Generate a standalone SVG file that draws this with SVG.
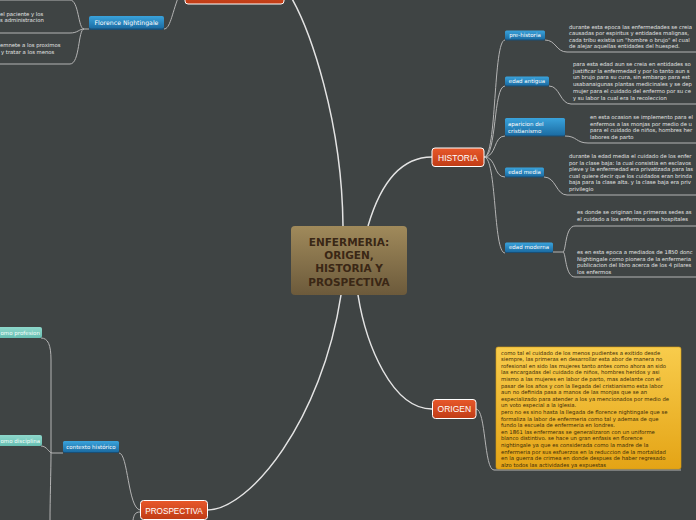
<svg xmlns="http://www.w3.org/2000/svg" width="696" height="520" viewBox="0 0 696 520">
<defs>
<linearGradient id="gCenter" x1="0" y1="0" x2="0" y2="1"><stop offset="0" stop-color="#a08a5b"/><stop offset="1" stop-color="#6c5a3b"/></linearGradient>
<linearGradient id="gOrange" x1="0" y1="0" x2="0" y2="1"><stop offset="0" stop-color="#e8582a"/><stop offset="1" stop-color="#c03c16"/></linearGradient>
<linearGradient id="gBlue" x1="0" y1="0" x2="0" y2="1"><stop offset="0" stop-color="#3aa3dc"/><stop offset="1" stop-color="#1b6ca3"/></linearGradient>
<linearGradient id="gTeal" x1="0" y1="0" x2="0" y2="1"><stop offset="0" stop-color="#8fd8cc"/><stop offset="1" stop-color="#67bfb2"/></linearGradient>
<linearGradient id="gYellow" x1="0" y1="0" x2="0" y2="1"><stop offset="0" stop-color="#f8cc4c"/><stop offset="1" stop-color="#e4a416"/></linearGradient>
</defs>
<style>
.main{fill:none;stroke:#e4e4e4;stroke-width:1.5}
.sub{fill:none;stroke:#b4b4b4;stroke-width:1}
.ctr{font-family:"DejaVu Sans",Verdana,sans-serif;font-weight:bold;font-size:10.5px;fill:#3a2715;text-anchor:middle}
.on{fill:url(#gOrange);stroke:#ffffff;stroke-width:1}
.ot{font-family:"Liberation Sans",Arial,sans-serif;font-size:8.5px;fill:#ffffff;text-anchor:middle}
.bn{fill:url(#gBlue)}
.bs{fill:#1a4e74}
.bt{font-family:"DejaVu Sans",Verdana,sans-serif;font-size:5.5px;fill:#ffffff;text-anchor:middle}
.tn{fill:url(#gTeal)}
.tt{font-family:"DejaVu Sans",Verdana,sans-serif;font-size:5.5px;fill:#f4fffb}
.body{font-family:"DejaVu Sans",Verdana,sans-serif;font-size:5.3px;fill:#e4e4e4}
.yt{font-family:"DejaVu Sans",Verdana,sans-serif;font-size:5.3px;fill:#3a2a08}
</style>
<rect x="0" y="0" width="696" height="520" fill="#3f4444"/>

<g id="connectors">
<path class="main" d="M291,-3 C310,30 342,120 343,226"/>
<path class="main" d="M368,226 C380,185 400,157 432,157"/>
<path class="main" d="M358,295 C366,345 392,409 432,409"/>
<path class="main" d="M341,295 C322,420 250,510 207,510"/>
<path class="sub" d="M164,29 C170,29 172,14 178,-2"/>
<path class="sub" d="M89,29 L84,29 C78,29 79,0 70,0 L0,0"/>
<path class="sub" d="M84,29 C79,29 78,33 70,33 L0,33"/>
<path class="sub" d="M84,29 C78,29 80,64 70,64 L0,64"/>
<path class="sub" d="M484,157 C497,157 493,40 505,40"/>
<path class="sub" d="M484,157 C497,157 493,86 505,86"/>
<path class="sub" d="M484,157 C497,157 493,136 505,136"/>
<path class="sub" d="M484,157 C497,157 493,177 505,177"/>
<path class="sub" d="M484,157 C497,157 493,253 505,253"/>
<path class="sub" d="M545,40 C556,40 556,52 567,52 L696,52"/>
<path class="sub" d="M549,86 C560,86 560,104 571,104 L696,104"/>
<path class="sub" d="M565,136 C577,136 576,143 588,143 L696,143"/>
<path class="sub" d="M544,177 C556,177 556,195 567,195 L696,195"/>
<path class="sub" d="M553,252 L563,252 C566,252 565,226 575,226 L696,226"/>
<path class="sub" d="M563,252 C566,252 565,277 575,277 L696,277"/>
<path class="sub" d="M476,409 C486,409 484,470 494,470 L681,470"/>
<path class="sub" d="M140,510 C128,508 128,453 119,453"/>
<path class="sub" d="M140,512 C135,512 134,515 133,520"/>
<path class="sub" d="M63,453 L52,453"/>
<path class="sub" d="M41,338 C48,338 51,345 51,360 L51,453"/>
<path class="sub" d="M41,446 C47,446 49,453 52,453"/>
<path class="sub" d="M51,453 C51,470 50,500 50,520"/>
</g>

<g id="center">
<rect x="291" y="226" width="116" height="69" rx="4" fill="url(#gCenter)"/>
<text class="ctr" x="349" y="246">ENFERMERIA:</text>
<text class="ctr" x="349" y="259">ORIGEN,</text>
<text class="ctr" x="349" y="272">HISTORIA Y</text>
<text class="ctr" x="349" y="286">PROSPECTIVA</text>
</g>

<g id="top-node">
<rect class="on" x="185" y="-20" width="99" height="24" rx="3"/>
</g>

<g id="florence">
<rect class="bs" x="89" y="17" width="75" height="13" rx="2"/>
<rect class="bn" x="89" y="16" width="75" height="12.5" rx="2"/>
<text class="bt" x="126.5" y="25" style="font-size:6.2px">Florence Nightingale</text>
</g>
<g id="florence-texts">
<text class="body" x="0" y="15.5">el paciente y los</text>
<text class="body" x="0" y="21.5">s administracion</text>
<text class="body" x="0" y="47">emnete a los proximos</text>
<text class="body" x="1" y="54">y tratar a los menos</text>
</g>

<g id="historia">
<rect class="on" x="432" y="148" width="52" height="18.5" rx="3"/>
<text class="ot" x="458" y="160.5">HISTORIA</text>
</g>

<g id="pre-historia">
<rect class="bs" x="505" y="31" width="40" height="9.5" rx="1.5"/>
<rect class="bn" x="505" y="30.5" width="40" height="9" rx="1.5"/>
<text class="bt" x="525" y="37">pre-historia</text>
<text class="body" x="569" y="29">durante esta epoca las enfermedades se creia</text>
<text class="body" x="569" y="35">causadas por espiritus y entidades malignas,</text>
<text class="body" x="569" y="41.5">cada tribu existia un "hombre o brujo" el cual</text>
<text class="body" x="569" y="48">de alejar aquellas entidades del huesped.</text>
</g>

<g id="edad-antigua">
<rect class="bs" x="505" y="77" width="44" height="9.5" rx="1.5"/>
<rect class="bn" x="505" y="76.5" width="44" height="9" rx="1.5"/>
<text class="bt" x="527" y="83">edad antigua</text>
<text class="body" x="573" y="66">para esta edad aun se creia en entidades so</text>
<text class="body" x="573" y="72.7">justificar la enfermedad y por lo tanto aun s</text>
<text class="body" x="573" y="79.4">un brujo para su cura, sin embargo para est</text>
<text class="body" x="573" y="86.1">usabanaigunas plantas medicinales y se dep</text>
<text class="body" x="573" y="92.8">mujer para el cuidado del enfermo por su ce</text>
<text class="body" x="573" y="99.5">y su labor la cual era la recoleccion</text>
</g>

<g id="aparicion">
<rect class="bs" x="505" y="118.5" width="60" height="18" rx="1.5"/>
<rect class="bn" x="505" y="118" width="60" height="17.5" rx="1.5"/>
<text class="bt" x="508" y="126" style="text-anchor:start">aparicion del</text>
<text class="bt" x="508" y="133" style="text-anchor:start">cristianismo</text>
<text class="body" x="590" y="119">en esta ocasion se implemento para el</text>
<text class="body" x="590" y="125.7">enfermos a las monjas por medio de u</text>
<text class="body" x="590" y="132.4">para el cuidado de niños, hombres her</text>
<text class="body" x="590" y="139">labores de parto</text>
</g>

<g id="edad-media">
<rect class="bs" x="505" y="168" width="39" height="9.5" rx="1.5"/>
<rect class="bn" x="505" y="167.5" width="39" height="9" rx="1.5"/>
<text class="bt" x="524.5" y="174">edad media</text>
<text class="body" x="569" y="158">durante la edad media el cuidado de los enfer</text>
<text class="body" x="569" y="164.6">por la clase baja: la cual consistia en esclavos</text>
<text class="body" x="569" y="171.2">pleve y la enfermedad era privatizada para las</text>
<text class="body" x="569" y="177.8">cual quiere decir que los cuidados eran brinda</text>
<text class="body" x="569" y="184.4">baja para la clase alta. y la clase baja era priv</text>
<text class="body" x="569" y="191">privilegio</text>
</g>

<g id="edad-moderna">
<rect class="bs" x="505" y="243" width="48" height="10" rx="1.5"/>
<rect class="bn" x="505" y="242.5" width="48" height="9.5" rx="1.5"/>
<text class="bt" x="529" y="249.3">edad moderna</text>
<text class="body" x="577" y="214">es donde se originan las primeras sedes as</text>
<text class="body" x="577" y="220.7">el cuidado a los enfermos osea hospitales</text>
<text class="body" x="577" y="254">es en esta epoca a mediados de 1850 donc</text>
<text class="body" x="577" y="260.5">Nightingale como pionera de la enfermeria</text>
<text class="body" x="577" y="267">publicacion del libro acerca de los 4 pilares</text>
<text class="body" x="577" y="273.5">los enfermos</text>
</g>

<g id="origen">
<rect class="on" x="432.5" y="399.5" width="43.5" height="19" rx="3"/>
<text class="ot" x="454.3" y="412">ORIGEN</text>
</g>

<g id="origen-text">
<rect x="496" y="347" width="185" height="122" rx="2" fill="url(#gYellow)" stroke="#d49a10" stroke-width="0.6"/>
<text class="yt" x="501" y="354.5">como tal el cuidado de los menos pudientes a exitido desde</text>
<text class="yt" x="501" y="361.1">siempre, las primeras en desarrollar esta abor de manera no</text>
<text class="yt" x="501" y="367.7">rofesional en sido las mujeres tanto antes como ahora an sido</text>
<text class="yt" x="501" y="374.3">las encargadas del cuidado de niños, hombres heridos y asi</text>
<text class="yt" x="501" y="380.9">mismo a las mujeres en labor de parto, mas adelante con el</text>
<text class="yt" x="501" y="387.5">pasar de los años y con la llegada del cristianismo esta labor</text>
<text class="yt" x="501" y="394.1">aun no definida pasa a manos de las monjas que se an</text>
<text class="yt" x="501" y="400.7">especializado para atender a los ya mencionados por medio de</text>
<text class="yt" x="501" y="407.3">un voto especial a la iglesia.</text>
<text class="yt" x="501" y="413.9">pero no es sino hasta la llegada de florence nightingale que se</text>
<text class="yt" x="501" y="420.5">formaliza la labor de enfermeria como tal y ademas de que</text>
<text class="yt" x="501" y="427.1">fundo la escuela de enfermeria en londres.</text>
<text class="yt" x="501" y="433.7">en 1861 las enfermeras se generalizaron con un uniforme</text>
<text class="yt" x="501" y="440.3">blanco distintivo. se hace un gran enfasis en florence</text>
<text class="yt" x="501" y="446.9">nightingale ya que es considerada como la madre de la</text>
<text class="yt" x="501" y="453.5">enfermeria por sus esfuerzos en la reduccion de la mortalidad</text>
<text class="yt" x="501" y="460.1">en la guerra de crimea en donde despues de haber regresado</text>
<text class="yt" x="501" y="466.7">alzo todos las actividades ya expuestas</text>
</g>

<g id="prospectiva">
<rect class="on" x="140.5" y="500.5" width="67" height="19" rx="3"/>
<text class="ot" x="174" y="513.5" style="font-size:8.2px">PROSPECTIVA</text>
</g>

<g id="contexto-historico">
<rect class="bs" x="63" y="441.5" width="56" height="11.5" rx="1.5"/>
<rect class="bn" x="63" y="441" width="56" height="11" rx="1.5"/>
<text class="bt" x="91" y="448.5">contexto histórico</text>
</g>

<g id="como-profesion">
<rect class="tn" x="-10" y="327" width="52" height="11" rx="2"/>
<text class="tt" x="0.5" y="334.5">omo profesion</text>
</g>

<g id="como-disciplina">
<rect class="tn" x="-10" y="435" width="52" height="11" rx="2"/>
<text class="tt" x="0.5" y="442.5">omo disciplina</text>
</g>
</svg>
